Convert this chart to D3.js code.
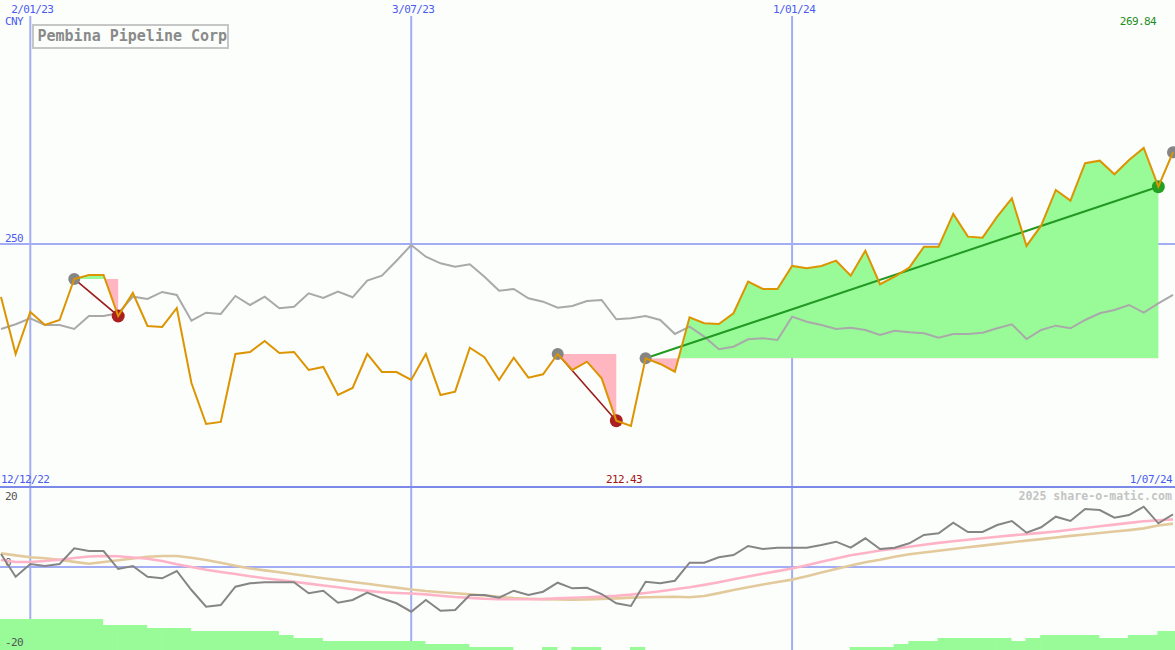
<!DOCTYPE html>
<html><head><meta charset="utf-8">
<script src="https://cdn.jsdelivr.net/npm/d3@7"></script>
<style>
body{margin:0;background:#fcfefc}
svg{display:block}
text{font-family:"DejaVu Sans Mono","Liberation Mono",monospace}
</style>
</head><body>
<svg id="c" width="1175" height="650"></svg>
<script>
const title = "Pembina Pipeline Corp";
const currency = "CNY";
const startDate = "2022-12-19";
const endDate = "2024-07-01";
const gridDates = ["2023-01-02", "2023-07-03", "2024-01-01"];
const gridLabels = ["2/01/23", "3/07/23", "1/01/24"];
const rangeLabels = ["12/12/22", "1/07/24"];
const priceTicks = [250];
const oscTicks = [20, 0, -20];
const maxLabel = "269.84";
const minLabel = "212.43";
const watermark = "2025 share-o-matic.com";

const price = [239.05,227.28,235.96,233.27,234.30,242.77,243.60,243.60,235.13,239.88,
233.06,232.86,236.78,221.29,212.83,213.24,227.28,227.70,229.97,227.49,
227.70,223.98,224.60,218.81,220.26,227.28,223.56,223.56,221.91,227.28,
218.81,219.50,228.58,226.60,221.91,226.52,222.39,223.09,227.28,223.98,
225.69,222.26,213.51,212.43,226.39,225.22,223.63,234.86,233.62,233.48,
235.69,242.21,240.71,240.71,245.46,244.98,245.46,246.55,243.45,248.62,
241.68,243.25,245.11,249.44,249.44,256.20,251.51,251.30,255.64,259.44,
249.59,253.78,261.15,258.94,266.67,267.20,264.39,267.35,269.84,261.83,
268.94];

const benchmark = [232.45,233.42,234.65,233.27,233.27,232.45,235.13,235.13,235.69,239.12,
238.64,240.09,239.47,234.16,235.81,235.54,239.26,237.40,239.12,236.72,
237.05,239.82,238.85,240.15,238.99,242.42,243.45,246.55,249.79,247.38,
246.01,245.31,245.81,243.25,240.36,240.71,238.79,238.08,236.84,237.20,
238.23,238.43,234.45,234.65,235.13,234.30,231.41,232.92,230.86,228.25,
228.79,230.32,230.52,230.17,234.99,233.95,233.27,232.45,232.71,232.24,
231.21,232.09,231.76,231.56,230.65,231.41,231.41,231.68,232.59,233.42,
230.38,232.24,233.13,232.59,234.30,235.69,236.37,237.40,235.81,237.75,
239.47];

const momentum = [3.42,-2.55,0.79,0.26,0.79,4.92,4.21,4.21,-0.53,0.26,
-2.55,-2.97,-1.05,-6.05,-10.45,-10.0,-5.18,-4.29,-4.03,-4.03,
-4.03,-6.92,-6.24,-9.39,-8.68,-6.76,-8.24,-9.55,-11.76,-8.68,
-11.5,-11.32,-7.37,-7.37,-8.08,-6.24,-7.37,-6.5,-4.13,-5.61,
-5.45,-7.11,-9.55,-10.26,-3.87,-4.29,-3.61,1.13,1.13,2.55,
3.16,5.53,4.74,5.08,5.08,5.08,5.79,6.66,5.08,7.55,
4.74,5.08,6.24,8.42,8.87,11.66,9.21,9.21,11.05,12.11,
9.03,10.45,13.24,12.11,15.26,15.0,12.97,13.68,15.87,11.5,
13.87];

const avgFast = [1.84,1.32,1.32,1.58,1.92,2.37,2.76,2.89,2.82,2.5,
2.16,1.58,0.71,0,-0.74,-1.32,-1.84,-2.42,-2.97,-3.42,
-3.89,-4.37,-4.87,-5.34,-5.84,-6.29,-6.66,-6.84,-6.97,-7.21,
-7.55,-7.89,-8.13,-8.37,-8.5,-8.5,-8.5,-8.45,-8.26,-8.11,
-7.95,-7.79,-7.58,-7.26,-6.84,-6.37,-5.87,-5.34,-4.71,-4.0,
-3.24,-2.5,-1.79,-1.08,-0.37,0.47,1.37,2.26,3.08,3.68,
4.32,4.84,5.34,5.87,6.34,6.76,7.16,7.58,7.97,8.32,
8.66,8.97,9.34,9.79,10.26,10.71,11.16,11.61,12.03,12.29,
12.53];

const avgSlow = [3.58,3.05,2.55,2.29,1.92,1.34,0.84,1.32,1.76,2.24,
2.71,2.89,2.89,2.42,1.84,1.11,0.34,-0.39,-0.89,-1.39,
-1.92,-2.45,-2.95,-3.45,-3.95,-4.42,-4.92,-5.42,-5.92,-6.32,
-6.63,-6.92,-7.21,-7.5,-7.84,-8.16,-8.34,-8.45,-8.53,-8.63,
-8.55,-8.42,-8.26,-8.05,-7.95,-7.89,-7.84,-7.97,-7.63,-6.87,
-6.05,-5.32,-4.61,-3.95,-3.32,-2.42,-1.47,-0.55,0.37,1.26,
1.92,2.71,3.37,3.82,4.29,4.74,5.18,5.63,6.08,6.53,
6.95,7.34,7.76,8.18,8.55,8.95,9.34,9.71,10.16,10.92,
11.42];

const histogram = [31,31,31,31,31,31,31,25,25,25,
22,22,22,19,19,19,19,19,19,15,
12,12,9,9,9,9,9,9,9,6,
6,6,3,3,3,0,0,3,0,3,
3,0,0,3,0,0,0,0,0,0,
0,0,0,0,0,0,0,0,3,3,
3,6,9,9,12,12,12,12,12,9,
12,15,15,15,15,12,12,15,15,19,
19];

const tradeStarts = [5, 38, 44];
const tradeEnds = [8, 42, 79];
const openIndex = 80;

// ---- drawing ----
const W = 1175, H = 650;
const svg = d3.select("#c");
const parse = d3.utcParse("%Y-%m-%d");
const t0 = parse(startDate);
const dateOf = i => d3.utcDay.offset(t0, 7 * i);
const x = d3.scaleUtc().domain([t0, parse(endDate)]).range([1, 1173]);
const y = d3.scaleLinear().domain([212.43, 269.84]).range([425.9, 147.9]);
const yo = d3.scaleLinear().domain([-20, 20]).range([643, 491]);
const yh = d3.scaleLinear().domain([0, 40]).range([650, 610]);
const idx = d3.range(price.length);
const px = i => x(dateOf(i));

svg.append("rect").attr("width", W).attr("height", H).attr("fill", "#fcfefc");

const grid = "#a3adf3";
// vertical grid
svg.selectAll(".vg").data(gridDates).join("line")
  .attr("x1", d => x(parse(d))).attr("x2", d => x(parse(d)))
  .attr("y1", 16).attr("y2", H)
  .attr("stroke", grid).attr("stroke-width", 2);
// horizontal price grid
svg.selectAll(".hg").data(priceTicks).join("line")
  .attr("x1", 0).attr("x2", W).attr("y1", d => y(d)).attr("y2", d => y(d))
  .attr("stroke", grid).attr("stroke-width", 2);
// oscillator zero line
svg.append("line").attr("x1", 0).attr("x2", W).attr("y1", yo(0)).attr("y2", yo(0))
  .attr("stroke", grid).attr("stroke-width", 2);

// histogram bars
svg.append("g").selectAll("rect").data(idx.filter(i => histogram[i] > 0)).join("rect")
  .attr("x", i => px(i) - 1)
  .attr("width", i => px(i + 1) - px(i) + 0.6)
  .attr("y", i => yh(histogram[i]))
  .attr("height", i => yh(0) - yh(histogram[i]))
  .attr("fill", "#98fb98");

// oscillator labels
const labFont = "11px";
svg.selectAll(".ol").data(oscTicks).join("text")
  .attr("x", 5).attr("y", d => d === 20 ? 500 : d === 0 ? 566 : 646)
  .attr("font-size", labFont).attr("letter-spacing", "-0.6px").attr("fill", "#555")
  .text(d => d);

// oscillator lines
const lineO = arr => d3.line().x(i => px(i)).y(i => yo(arr[i]))(idx);
svg.append("path").attr("d", lineO(avgSlow)).attr("fill", "none").attr("stroke", "#e3ca9c").attr("stroke-width", 2.6);
svg.append("path").attr("d", lineO(avgFast)).attr("fill", "none").attr("stroke", "#ffb3c6").attr("stroke-width", 2.6);
svg.append("path").attr("d", lineO(momentum)).attr("fill", "none").attr("stroke", "#858585").attr("stroke-width", 2);

// trade fills
const defs = svg.append("defs");
tradeStarts.forEach((s, k) => {
  const e = tradeEnds[k];
  const seg = d3.range(s, e + 1);
  const base = y(price[s]);
  const area = d3.area().x(i => px(i)).y0(base).y1(i => y(price[i]))(seg);
  defs.append("clipPath").attr("id", "up" + k).append("rect")
    .attr("x", 0).attr("y", 0).attr("width", W).attr("height", base);
  defs.append("clipPath").attr("id", "dn" + k).append("rect")
    .attr("x", 0).attr("y", base).attr("width", W).attr("height", H - base);
  svg.append("path").attr("d", area).attr("fill", "#98fb98").attr("clip-path", `url(#up${k})`);
  svg.append("path").attr("d", area).attr("fill", "#ffb6c1").attr("clip-path", `url(#dn${k})`);
});

// benchmark line
svg.append("path").attr("d", d3.line().x(i => px(i)).y(i => y(benchmark[i]))(idx))
  .attr("fill", "none").attr("stroke", "#a9a9a9").attr("stroke-width", 2);

// trade lines & markers
tradeStarts.forEach((s, k) => {
  const e = tradeEnds[k];
  const win = price[e] > price[s];
  svg.append("line").attr("x1", px(s)).attr("y1", y(price[s])).attr("x2", px(e)).attr("y2", y(price[e]))
    .attr("stroke", win ? "#229a22" : "#9b1a1a").attr("stroke-width", win ? 2 : 1.6);
});
tradeStarts.forEach((s, k) => {
  const e = tradeEnds[k];
  const win = price[e] > price[s];
  svg.append("circle").attr("cx", px(s)).attr("cy", y(price[s])).attr("r", 6).attr("fill", "#858585");
  svg.append("circle").attr("cx", px(e)).attr("cy", y(price[e])).attr("r", 6.5).attr("fill", win ? "#22a022" : "#aa2020");
});
svg.append("circle").attr("cx", px(openIndex)).attr("cy", y(price[openIndex])).attr("r", 6).attr("fill", "#858585");

// price line
svg.append("path").attr("d", d3.line().x(i => px(i)).y(i => y(price[i]))(idx))
  .attr("fill", "none").attr("stroke", "#dc9400").attr("stroke-width", 2);

// separator between panels
svg.append("line").attr("x1", 0).attr("x2", W).attr("y1", 487).attr("y2", 487)
  .attr("stroke", "#7b8ae9").attr("stroke-width", 2);

// texts
const blue = "#4a5cf0";
svg.selectAll(".dl").data(gridDates).join("text")
  .attr("x", d => x(parse(d)) + 2).attr("y", 13).attr("text-anchor", "middle")
  .attr("font-size", labFont).attr("letter-spacing", "-0.6px").attr("fill", blue)
  .text((d, i) => gridLabels[i]);
svg.append("text").attr("x", 5).attr("y", 25).attr("font-size", labFont).attr("letter-spacing", "-0.6px").attr("fill", blue).text(currency);
svg.selectAll(".pl").data(priceTicks).join("text")
  .attr("x", 5).attr("y", d => y(d) - 2).attr("font-size", labFont).attr("letter-spacing", "-0.6px").attr("fill", blue).text(d => d);
svg.append("text").attr("x", 1156).attr("y", 25).attr("text-anchor", "end")
  .attr("font-size", labFont).attr("letter-spacing", "-0.6px").attr("fill", "#1e8c1e").text(maxLabel);
svg.append("text").attr("x", 606).attr("y", 483)
  .attr("font-size", labFont).attr("letter-spacing", "-0.6px").attr("fill", "#a01515").text(minLabel);
svg.append("text").attr("x", 1).attr("y", 483)
  .attr("font-size", labFont).attr("letter-spacing", "-0.6px").attr("fill", blue).text(rangeLabels[0]);
svg.append("text").attr("x", 1172).attr("y", 483).attr("text-anchor", "end")
  .attr("font-size", labFont).attr("letter-spacing", "-0.6px").attr("fill", blue).text(rangeLabels[1]);
svg.append("text").attr("x", 1172).attr("y", 500).attr("text-anchor", "end")
  .attr("font-size", "11.6px").attr("font-weight", "bold").attr("fill", "#c4c4c4").text(watermark);

// title box
svg.append("rect").attr("x", 33).attr("y", 25).attr("width", 195).attr("height", 23)
  .attr("fill", "#fcfefc").attr("stroke", "#c6c6c6").attr("stroke-width", 2);
svg.append("text").attr("x", 37.5).attr("y", 41).attr("font-size", "15px").attr("font-weight", "bold")
  .attr("fill", "#8a8a8a").text(title);
</script>
</body></html>
